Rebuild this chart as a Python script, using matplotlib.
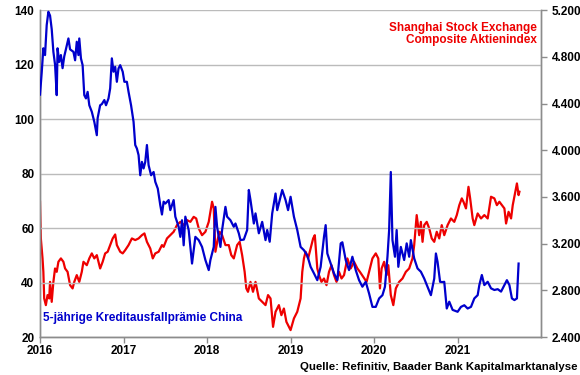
import matplotlib
matplotlib.use("Agg")
import matplotlib.pyplot as plt
import numpy as np
from matplotlib.ticker import FuncFormatter

plt.rcParams["font.family"] = ["Liberation Sans", "DejaVu Sans"]

# 5-year CDS China (left axis), decimal years
cds_t = [2016.00, 2016.02, 2016.04, 2016.06, 2016.08, 2016.10, 2016.12, 2016.14, 2016.16, 2016.18,
         2016.20, 2016.21, 2016.23, 2016.25, 2016.27, 2016.29, 2016.32, 2016.34, 2016.36, 2016.40,
         2016.42, 2016.44, 2016.46, 2016.47, 2016.49, 2016.51, 2016.53, 2016.55, 2016.57, 2016.59,
         2016.62, 2016.65, 2016.68, 2016.69, 2016.72, 2016.74, 2016.77, 2016.79, 2016.82, 2016.84,
         2016.86, 2016.88, 2016.90, 2016.92, 2016.94, 2016.96, 2016.99, 2017.01, 2017.04, 2017.06,
         2017.09, 2017.12, 2017.14, 2017.16, 2017.18, 2017.20, 2017.22, 2017.24, 2017.26, 2017.28,
         2017.30, 2017.33, 2017.36, 2017.38, 2017.41, 2017.44, 2017.46, 2017.48, 2017.50, 2017.54,
         2017.56, 2017.60, 2017.62, 2017.66, 2017.68, 2017.70, 2017.72, 2017.74, 2017.78, 2017.82,
         2017.86, 2017.90, 2017.94, 2017.98, 2018.02, 2018.04, 2018.08, 2018.10, 2018.12, 2018.16,
         2018.18, 2018.22, 2018.24, 2018.28, 2018.32, 2018.34, 2018.38, 2018.40, 2018.44, 2018.48,
         2018.50, 2018.52, 2018.56, 2018.58, 2018.62, 2018.66, 2018.70, 2018.72, 2018.75, 2018.78,
         2018.82, 2018.84, 2018.90, 2018.94, 2018.97, 2019.00, 2019.04, 2019.08, 2019.12, 2019.16,
         2019.20, 2019.24, 2019.28, 2019.32, 2019.36, 2019.40, 2019.42, 2019.44, 2019.48, 2019.52,
         2019.56, 2019.60, 2019.62, 2019.66, 2019.70, 2019.74, 2019.78, 2019.82, 2019.86, 2019.90,
         2019.94, 2019.98, 2020.02, 2020.06, 2020.10, 2020.13, 2020.16, 2020.18, 2020.20, 2020.21,
         2020.22, 2020.25, 2020.27, 2020.29, 2020.32, 2020.36, 2020.39, 2020.42, 2020.44, 2020.48,
         2020.52, 2020.56, 2020.60, 2020.64, 2020.68, 2020.72, 2020.74, 2020.76, 2020.79, 2020.82,
         2020.84, 2020.87, 2020.90, 2020.94, 2021.00, 2021.04, 2021.08, 2021.12, 2021.16, 2021.20,
         2021.24, 2021.26, 2021.29, 2021.32, 2021.36, 2021.40, 2021.44, 2021.48, 2021.52, 2021.56,
         2021.59, 2021.62, 2021.65, 2021.68, 2021.71, 2021.73]
cds_v = [109, 117, 126, 123.5, 134.5, 139.4, 138, 133, 124.7, 120,
         108.8, 126, 121, 123.5, 118.7, 123, 127, 129.6, 125.6, 124.7,
         121.6, 128.4, 123.5, 129.6, 122.3, 119.8, 108.8, 107.6, 110, 105.1,
         102.7, 99, 94.1, 100.4, 105.1, 105.5, 107, 105.1, 107.6, 111.3,
         122.3, 117.4, 119.2, 113.7, 118.6, 119.8, 117.4, 113.7, 113.7, 110,
         105.1, 99, 90.5, 89.2, 86.8, 79.4, 84.3, 81.9, 84.3, 90.5,
         83.1, 79.4, 80.6, 77, 74.5, 68.4, 65, 69.7, 69, 70.3,
         66.6, 70.3, 64.2, 60.5, 56.8, 62.9, 53.7, 64.2, 59.3, 47,
         56.8, 55.6, 53.1, 48.3, 44.6, 48.3, 53.1, 67.8, 60.5, 53.1,
         59.3, 67.8, 64.2, 62.9, 60.5, 61.7, 58.1, 55.6, 55.8, 59.3,
         74, 70.3, 61.7, 65.4, 58.1, 62.3, 55.6, 59.3, 55, 65.4,
         72.7, 66.6, 74, 70.3, 66.6, 71.5, 64.2, 59.3, 53.1, 51.9,
         50, 45.8, 43.4, 40.9, 45.8, 56.8, 61.1, 50.7, 47, 43.4,
         40.9, 54.4, 54.8, 48.3, 44.6, 49.5, 44.6, 40.9, 38.5, 40.3,
         36, 31.1, 31.1, 34.2, 35.4, 38.5, 49.5, 59.3, 80.6, 68.4,
         55.6, 49.5, 59.3, 45.8, 53.1, 48.3, 54.4, 49.5, 55.6, 48.9,
         45.2, 44, 41.5, 38.5, 35.4, 41.5, 50.7, 47.6, 40.3, 40.2,
         40.3, 30.5, 33, 30, 29.3, 31.1, 31.7, 30.5, 31.1, 34.2,
         35.4, 39.1, 42.8, 39.1, 40.3, 37.9, 37.3, 37.6, 36.7, 39.1,
         40.9, 39.1, 34.2, 33.6, 34.2, 47]

# Shanghai Composite (right axis)
ssec_t = [2016.00, 2016.01, 2016.03, 2016.04, 2016.05, 2016.07, 2016.09, 2016.11, 2016.12, 2016.14,
          2016.16, 2016.18, 2016.20, 2016.22, 2016.25, 2016.28, 2016.30, 2016.33, 2016.36, 2016.39,
          2016.41, 2016.44, 2016.47, 2016.50, 2016.52, 2016.56, 2016.59, 2016.62, 2016.65, 2016.68,
          2016.72, 2016.75, 2016.78, 2016.81, 2016.84, 2016.87, 2016.90, 2016.92, 2016.96, 2016.99,
          2017.02, 2017.06, 2017.10, 2017.14, 2017.18, 2017.22, 2017.25, 2017.28, 2017.32, 2017.35,
          2017.38, 2017.42, 2017.46, 2017.48, 2017.52, 2017.56, 2017.60, 2017.64, 2017.68, 2017.72,
          2017.76, 2017.80, 2017.84, 2017.87, 2017.90, 2017.94, 2017.98, 2018.02, 2018.06, 2018.08,
          2018.10, 2018.13, 2018.15, 2018.18, 2018.22, 2018.26, 2018.29, 2018.32, 2018.36, 2018.39,
          2018.42, 2018.45, 2018.47, 2018.49, 2018.52, 2018.55, 2018.58, 2018.62, 2018.66, 2018.70,
          2018.73, 2018.76, 2018.79, 2018.82, 2018.86, 2018.89, 2018.92, 2018.95, 2018.99, 2019.00,
          2019.04, 2019.08, 2019.12, 2019.14, 2019.16, 2019.18, 2019.21, 2019.24, 2019.27, 2019.29,
          2019.32, 2019.34, 2019.37, 2019.40, 2019.43, 2019.46, 2019.49, 2019.52, 2019.55, 2019.58,
          2019.61, 2019.64, 2019.68, 2019.72, 2019.76, 2019.80, 2019.83, 2019.87, 2019.91, 2019.94,
          2019.98, 2020.02, 2020.05, 2020.07, 2020.09, 2020.12, 2020.15, 2020.17, 2020.20, 2020.23,
          2020.26, 2020.30, 2020.34, 2020.38, 2020.42, 2020.46, 2020.48, 2020.51, 2020.54, 2020.56,
          2020.58, 2020.60, 2020.63, 2020.66, 2020.69, 2020.72, 2020.75, 2020.78, 2020.81, 2020.84,
          2020.88, 2020.92, 2020.96, 2020.99, 2021.02, 2021.05, 2021.07, 2021.10, 2021.13, 2021.15,
          2021.18, 2021.20, 2021.24, 2021.28, 2021.32, 2021.36, 2021.40, 2021.44, 2021.47, 2021.50,
          2021.53, 2021.56, 2021.58, 2021.61, 2021.64, 2021.66, 2021.69, 2021.71, 2021.73, 2021.74]
ssec_v = [3559, 3245, 3074, 2959, 2731, 2674, 2760, 2731, 2873, 2702,
          2873, 2988, 2959, 3045, 3074, 3045, 2988, 2959, 2845, 2817,
          2873, 2931, 2873, 2959, 3045, 3016, 3074, 3117, 3074, 3102,
          2988, 3045, 3117, 3131, 3188, 3245, 3279, 3188, 3131, 3117,
          3145, 3188, 3245, 3231, 3245, 3273, 3288, 3216, 3159, 3074,
          3117, 3131, 3188, 3173, 3245, 3273, 3302, 3359, 3387, 3359,
          3402, 3387, 3430, 3416, 3331, 3273, 3302, 3387, 3559, 3502,
          3131, 3245, 3302, 3273, 3188, 3188, 3102, 3074, 3188, 3216,
          3102, 2959, 2817, 2788, 2873, 2788, 2873, 2731, 2702, 2674,
          2760, 2731, 2488, 2617, 2674, 2588, 2645, 2531, 2474, 2460,
          2560, 2617, 2731, 2959, 3074, 3131, 3074, 3159, 3245, 3273,
          2988, 2931, 2873, 2902, 2845, 2959, 3016, 2931, 2873, 2959,
          2902, 2931, 3074, 2988, 3045, 2988, 2959, 2916, 2873, 2959,
          3074, 3117, 3074, 2817, 2988, 3045, 2931, 3016, 2760, 2674,
          2817, 2873, 2902, 2959, 2988, 3074, 3188, 3445, 3273, 3387,
          3216, 3359, 3387, 3331, 3245, 3216, 3302, 3245, 3359, 3273,
          3359, 3416, 3387, 3445, 3530, 3588, 3559, 3502, 3687, 3588,
          3416, 3359, 3459, 3416, 3445, 3416, 3602, 3588, 3530, 3559,
          3530, 3502, 3373, 3473, 3416, 3530, 3644, 3716, 3616, 3645]

years = [2016, 2017, 2018, 2019, 2020, 2021]
left_ticks = [20, 40, 60, 80, 100, 120, 140]
right_ticks = [2400, 2800, 3200, 3600, 4000, 4400, 4800, 5200]

BLUE = "#0000CC"
RED = "#EE0000"
AXC = "#8C8C8C"

fig = plt.figure(figsize=(5.8, 3.75), dpi=100)
ax = fig.add_axes([0.069, 0.101, 0.864, 0.872])
ax2 = ax.twinx()

ax.plot(cds_t, cds_v, color=BLUE, lw=1.6, zorder=3)
ax2.plot(ssec_t, ssec_v, color=RED, lw=1.6, zorder=2)
ax.set_zorder(ax2.get_zorder() + 1)
ax.patch.set_visible(False)

ax.set_xlim(2016, 2022)
ax.set_ylim(20, 140)
ax2.set_ylim(2400, 5200)
ax.set_xticks(years)
ax.set_xticklabels([str(y) for y in years])
ax.set_yticks(left_ticks)
ax2.set_yticks(right_ticks)
ax2.yaxis.set_major_formatter(FuncFormatter(lambda v, p: f"{int(v):,}".replace(",", ".")))

ax.grid(axis="y", color="#BBBBBB", lw=1.0)
for a in (ax, ax2):
    for s in a.spines.values():
        s.set_color(AXC)
        s.set_linewidth(1.0)
    a.spines["top"].set_visible(False)
    a.tick_params(colors=AXC, labelcolor="black", labelsize=8.5, length=4, width=1)
ax.tick_params(axis="y", length=0, pad=4)
ax.tick_params(axis="x", pad=1.5)
for lab in ax.get_xticklabels() + ax.get_yticklabels() + ax2.get_yticklabels():
    lab.set_fontweight("bold")

ax.text(0.005, 0.06, "5-jährige Kreditausfallprämie China", transform=ax.transAxes,
        color=BLUE, fontsize=8.5, fontweight="bold", ha="left", va="center")
ax.text(0.992, 0.965, "Shanghai Stock Exchange\nComposite Aktienindex", transform=ax.transAxes,
        color=RED, fontsize=8.5, fontweight="bold", ha="right", va="top", linespacing=1.05)
fig.text(0.995, 0.008, "Quelle: Refinitiv, Baader Bank Kapitalmarktanalyse",
         fontsize=8.2, fontweight="bold", ha="right", va="bottom")

fig.savefig("out.png", dpi=100)
